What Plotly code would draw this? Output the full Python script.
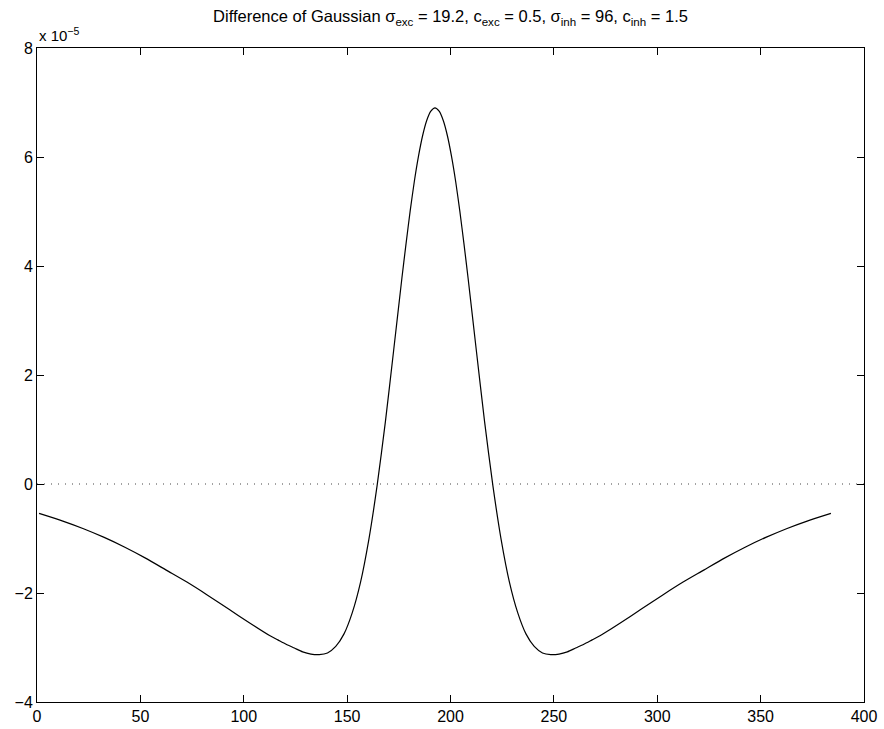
import plotly.graph_objects as go

# x positions (sample index) and DoG values, in units of 1e-5
x_left = [1, 12.5, 22.5, 32.5, 42.5, 52.5, 62.5, 72.5, 82.5, 92.5, 102.5, 112.5,
          116.5, 120.5, 124.5, 128.5, 132.5, 136.5, 140.5, 144.5, 148.5, 152.5,
          156.5, 160.5, 164.5, 168.5, 172.5, 176.5, 178.5, 180.5, 182.5, 184.5,
          186.5, 188.5, 190.5]
y_left = [-0.54, -0.68, -0.82, -0.98, -1.16, -1.36, -1.58, -1.80, -2.04, -2.29, -2.54, -2.78,
          -2.86, -2.94, -3.01, -3.08, -3.12, -3.13, -3.10, -2.98, -2.75, -2.36,
          -1.80, -1.02, -0.03, 1.14, 2.45, 3.78, 4.41, 5.01, 5.55, 6.01,
          6.39, 6.67, 6.84]
x_peak = [192.5]
y_peak = [6.90]
x_right = [194.5, 196.5, 198.5, 200.5, 202.5, 204.5, 206.5, 208.5, 212.5, 216.5, 220.5,
           224.5, 228.5, 232.5, 236.5, 240.5, 244.5, 248.5, 252.5, 256.5, 260.5,
           264.5, 268.5, 272.5, 282.5, 292.5, 302.5, 312.5, 322.5, 332.5, 342.5,
           352.5, 362.5, 372.5, 384]
y_right = [6.84, 6.67, 6.39, 6.01, 5.55, 5.01, 4.41, 3.78, 2.45, 1.14, -0.03,
           -1.02, -1.80, -2.36, -2.75, -2.98, -3.10, -3.13, -3.12, -3.08, -3.01,
           -2.94, -2.86, -2.78, -2.54, -2.29, -2.04, -1.80, -1.58, -1.36, -1.16,
           -0.98, -0.82, -0.68, -0.54]

x_ticks = [0, 50, 100, 150, 200, 250, 300, 350, 400]
y_ticks = [-4, -2, 0, 2, 4, 6, 8]

title_text = ("Difference of Gaussian σ<sub>exc</sub> = 19.2, c<sub>exc</sub> = 0.5, "
              "σ<sub>inh</sub> = 96, c<sub>inh</sub> = 1.5")

FONT = "Liberation Sans, Arial, sans-serif"

fig = go.Figure()
fig.add_trace(go.Scatter(x=[0, 400], y=[0, 0], mode="lines",
                         line=dict(color="#444444", width=1, dash="1px,6px"),
                         hoverinfo="skip", showlegend=False))
fig.add_trace(go.Scatter(x=x_left + x_peak + x_right, y=y_left + y_peak + y_right, mode="lines",
                         line=dict(color="black", width=1.2, shape="spline", smoothing=0.7),
                         showlegend=False))

axis_common = dict(showline=True, linecolor="black", linewidth=1, mirror="ticks",
                   ticks="inside", ticklen=7, tickcolor="black", tickwidth=1,
                   showgrid=False, zeroline=False, automargin=False,
                   tickfont=dict(family=FONT, size=16, color="black"))

fig.update_xaxes(range=[0, 400], tickvals=x_ticks, ticktext=[str(v) for v in x_ticks], **axis_common)
fig.update_yaxes(range=[-4, 8], tickvals=y_ticks,
                 ticktext=[("−" + str(-v)) if v < 0 else str(v) for v in y_ticks], **axis_common)

fig.update_layout(
    width=884, height=729,
    margin=dict(l=37, r=20, t=48, b=27, autoexpand=False),
    paper_bgcolor="white", plot_bgcolor="white",
    title=dict(text=title_text, x=0.5, xref="paper", xanchor="center",
               y=0.985, yref="container", yanchor="top",
               font=dict(family=FONT, size=16.5, color="black")),
    annotations=[dict(text="x 10<sup>−5</sup>", xref="paper", yref="paper", x=0.0, y=1.0,
                      xanchor="left", yanchor="bottom", showarrow=False, yshift=2,
                      font=dict(family=FONT, size=15, color="black"))],
)

fig.write_html("out.html")
